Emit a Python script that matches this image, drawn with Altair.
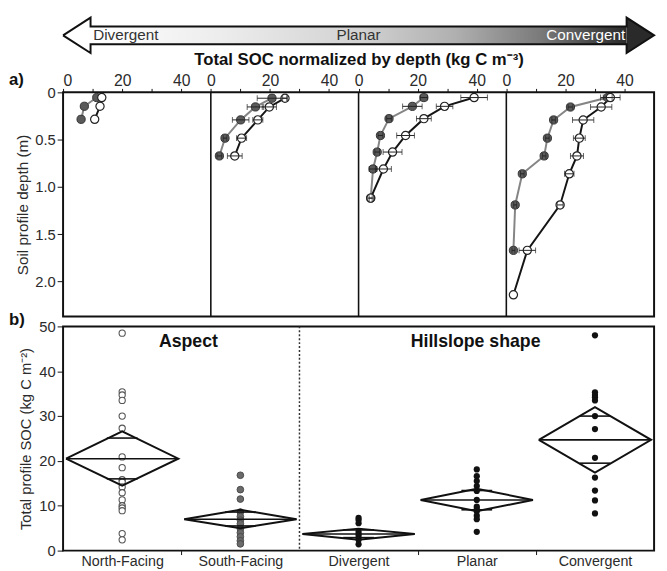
import altair as alt
import pandas as pd

FONT = "Liberation Sans"
TXT = "#2b2b2b"

# ---------------- banner arrow ----------------
arrow_labels = ["Divergent", "Planar", "Convergent"]
arrow_label_x = [10.2, 100.0, 190.2]
arrow_label_align = ["left", "center", "right"]
arrow_label_color = ["#333333", "#333333", "#ffffff"]
grad_offsets = [0.0, 0.25, 0.5, 0.68, 0.84, 1.0]
grad_colors = ["#ffffff", "#ececec", "#d2d2d2", "#b0b0b0", "#7a7a7a", "#2a2a2a"]

# ---------------- panel a: depth profiles ----------------
panel_offset = [0, 50, 100, 150]

p1_depth = [0.055, 0.147, 0.285]
p1_dark = [11.4, 7.2, 6.1]
p1_dark_err = [0.0, 0.0, 0.0]
p1_white = [13.1, 12.5, 10.7]
p1_white_err = [0.0, 0.0, 0.0]

p2_depth = [0.062, 0.154, 0.291, 0.484, 0.672]
p2_dark = [20.7, 15.1, 10.1, 4.8, 2.9]
p2_dark_err = [5.0, 2.8, 2.8, 0.6, 0.8]
p2_white = [25.1, 19.8, 15.9, 10.4, 8.1]
p2_white_err = [0.8, 2.4, 1.7, 1.7, 2.5]

p3_depth = [0.055, 0.148, 0.278, 0.456, 0.631, 0.81, 1.118]
p3_dark = [22.1, 18.2, 10.3, 7.4, 6.3, 4.9, 4.1]
p3_dark_err = [1.2, 3.3, 0.8, 0.8, 0.8, 1.3, 0.5]
p3_white = [39.1, 29.1, 22.1, 15.9, 11.5, 8.4, 4.1]
p3_white_err = [4.5, 2.8, 2.5, 3.0, 3.2, 2.7, 1.0]

p4_depth = [0.055, 0.155, 0.292, 0.484, 0.672, 0.861, 1.19, 1.67, 2.14]
p4_dark = [34.3, 21.7, 16.0, 13.9, 12.8, 5.4, 3.0, 2.4]
p4_dark_err = [1.5, 0.8, 0.6, 0.6, 0.6, 0.6, 0.5, 0.5]
p4_white = [35.2, 32.1, 26.0, 24.7, 23.9, 21.3, 18.2, 7.1, 2.4]
p4_white_err = [3.3, 3.6, 3.6, 2.0, 2.2, 1.6, 1.0, 2.8, 0.0]

depth_ticks = [0, 0.5, 1.0, 1.5, 2.0]

# ---------------- panel b: total profile SOC ----------------
cat_names = ["North-Facing", "South-Facing", "Divergent", "Planar", "Convergent"]
north_vals = [48.5, 35.4, 34.7, 33.5, 30.0, 27.3, 20.9, 18.5, 15.8, 15.3, 14.2, 12.9, 11.3, 10.0, 9.5, 8.9, 3.8, 2.4]
south_vals = [16.8, 13.6, 11.5, 8.6, 7.6, 6.8, 6.0, 4.9, 4.0, 3.1, 2.2, 1.5]
div_vals = [7.3, 6.8, 6.1, 4.2, 3.6, 3.0, 2.4, 1.4]
planar_vals = [18.1, 16.6, 15.5, 14.4, 13.3, 11.3, 9.8, 9.3, 8.8, 7.8, 7.0, 4.2]
conv_vals = [48.0, 35.3, 34.7, 34.2, 33.5, 30.0, 27.1, 20.7, 16.3, 13.4, 11.2, 8.3]

diam_mean = [20.5, 7.0, 3.7, 11.3, 24.7]
diam_hi = [26.6, 9.1, 4.9, 13.8, 32.0]
diam_lo = [14.5, 5.0, 2.4, 8.8, 17.4]
ovl_hi = [25.1, 8.6, 4.6, 13.4, 30.0]
ovl_lo = [16.0, 5.5, 2.9, 9.1, 19.5]

group_titles = ["Aspect", "Hillslope shape"]
group_title_x = [1.06, 3.49]
group_title_y = [46.6, 46.6]
group_split = [2.0]
panel_letters = ["a)", "b)"]

# ---------------- geometry ----------------
W = 601
HA = 228
HB = 228
AH = 36
GAP_ARROW = 40
GAP_PANELS = 10
HEAD = 9.3
A_TOP, A_BOT = 0.0, 42.0
B_TOP, B_BOT = 10.5, 31.5
MID = 21.0
DW = 0.475
OW = 0.13

# ======== arrow chart ========
ax_sc = alt.Scale(domain=[0, 200], nice=False, zero=False)
ay_sc = alt.Scale(domain=[A_TOP, A_BOT], reverse=True, nice=False, zero=False)

gradient = alt.LinearGradient(
    gradient="linear",
    stops=[alt.GradientStop(color=c, offset=o) for c, o in zip(grad_colors, grad_offsets)],
    x1=0, x2=1, y1=0, y2=0,
)
body_df = pd.DataFrame({"x": [HEAD], "x2": [200 - HEAD], "y": [B_TOP], "y2": [B_BOT]})
body = alt.Chart(body_df).mark_rect(fill=gradient, strokeWidth=0).encode(
    x=alt.X("x:Q", scale=ax_sc, axis=None), x2="x2:Q",
    y=alt.Y("y:Q", scale=ay_sc, axis=None), y2="y2:Q")

lhead_df = pd.DataFrame({"x": [0, HEAD], "y": [MID, A_TOP], "y2": [MID, A_BOT]})
lhead = alt.Chart(lhead_df).mark_area(fill="#ffffff", strokeWidth=0).encode(
    x=alt.X("x:Q", scale=ax_sc, axis=None), y=alt.Y("y:Q", scale=ay_sc, axis=None), y2="y2:Q")
rhead_df = pd.DataFrame({"x": [200 - HEAD, 200], "y": [A_TOP, MID], "y2": [A_BOT, MID]})
rhead = alt.Chart(rhead_df).mark_area(fill=grad_colors[-1], strokeWidth=0).encode(
    x=alt.X("x:Q", scale=ax_sc, axis=None), y=alt.Y("y:Q", scale=ay_sc, axis=None), y2="y2:Q")

ox = [0, HEAD, HEAD, 200 - HEAD, 200 - HEAD, 200, 200 - HEAD, 200 - HEAD, HEAD, HEAD, 0]
oy = [MID, A_TOP, B_TOP, B_TOP, A_TOP, MID, A_BOT, B_BOT, B_BOT, A_BOT, MID]
outline_df = pd.DataFrame({"x": ox, "y": oy, "o": list(range(len(ox)))})
outline = alt.Chart(outline_df).mark_line(color="#111111", strokeWidth=2, strokeJoin="miter").encode(
    x=alt.X("x:Q", scale=ax_sc, axis=None), y=alt.Y("y:Q", scale=ay_sc, axis=None), order="o:Q")

arrow_layers = [body, lhead, rhead, outline]
for lab, lx, al, col in zip(arrow_labels, arrow_label_x, arrow_label_align, arrow_label_color):
    tdf = pd.DataFrame({"x": [lx], "y": [MID], "t": [lab]})
    arrow_layers.append(
        alt.Chart(tdf).mark_text(align=al, baseline="middle", fontSize=15.5, color=col, font=FONT).encode(
            x=alt.X("x:Q", scale=ax_sc, axis=None), y=alt.Y("y:Q", scale=ay_sc, axis=None), text="t:N"))
arrow_chart = alt.layer(*arrow_layers).properties(
    width=W, height=AH, view=alt.ViewBackground(stroke="transparent"))

# ======== panel a ========
panels = [
    (p1_depth, p1_dark, p1_dark_err, p1_white, p1_white_err),
    (p2_depth, p2_dark, p2_dark_err, p2_white, p2_white_err),
    (p3_depth, p3_dark, p3_dark_err, p3_white, p3_white_err),
    (p4_depth, p4_dark, p4_dark_err, p4_white, p4_white_err),
]
rows = []
for pi, (dep, dk, dke, wh, whe) in enumerate(panels):
    off = panel_offset[pi]
    for s, vals, errs in (("dark", dk, dke), ("white", wh, whe)):
        for d, v, e in zip(dep, vals, errs):
            rows.append(dict(key=f"{pi}-{s}", series=s, depth=d, xp=off + v,
                             lo=off + v - e, hi=off + v + e, err=e))
prof = pd.DataFrame(rows)
caps = pd.concat([
    prof[prof.err > 0][["depth", "lo"]].rename(columns={"lo": "xp"}),
    prof[prof.err > 0][["depth", "hi"]].rename(columns={"hi": "xp"}),
])

xa_sc = alt.Scale(domain=[0, 200], nice=False, zero=False)
ya_sc = alt.Scale(domain=[0, 2.37], reverse=True, nice=False, zero=False)

TITLE_A_X = "Total SOC normalized by depth (kg C m\u207b\u00b3)"
TITLE_A_Y = "Soil profile depth (m)"
top_axis = alt.Axis(
    orient="top", values=list(range(0, 200, 10)),
    labelExpr="((datum.value % 50) % 20 == 0) ? '' + (datum.value % 50) : ''",
    tickSize=4, tickColor="#111", labelPadding=0, labelFontSize=16, labelColor=TXT,
    title=TITLE_A_X, titleFontSize=17,
    titleFontWeight="bold", titleColor="#111", titlePadding=4, domain=False, grid=False)
left_axis_a = alt.Axis(
    values=depth_ticks,
    labelExpr="datum.value == 0 ? '0' : format(datum.value, '.1f')",
    tickSize=6, tickColor="#111", labelPadding=2, labelFontSize=15, labelColor=TXT,
    title=TITLE_A_Y, titleFontSize=15.5, titleFontWeight="normal",
    titleColor=TXT, titlePadding=4, domain=False, grid=False)


def XA(field):
    return alt.X(field, type="quantitative", scale=xa_sc, axis=top_axis, title=TITLE_A_X)


def YA(field):
    return alt.Y(field, type="quantitative", scale=ya_sc, axis=left_axis_a, title=TITLE_A_Y)


div_df = pd.DataFrame({"xp": panel_offset[1:]})
dividers = alt.Chart(div_df).mark_rule(color="#111", strokeWidth=1.6).encode(x=XA("xp"))

lines_dark = alt.Chart(prof[prof.series == "dark"]).mark_line(color="#858585", strokeWidth=2).encode(
    x=XA("xp"), y=YA("depth"), detail="key:N", order="depth:Q")
lines_white = alt.Chart(prof[prof.series == "white"]).mark_line(color="#151515", strokeWidth=2).encode(
    x=XA("xp"), y=YA("depth"), detail="key:N", order="depth:Q")
pts_dark = alt.Chart(prof[prof.series == "dark"]).mark_point(
    shape="circle", filled=True, fill="#5a5a5a", stroke="#333333", strokeWidth=1, size=70, opacity=1).encode(
    x=XA("xp"), y=YA("depth"))
pts_white = alt.Chart(prof[prof.series == "white"]).mark_point(
    shape="circle", filled=True, fill="#ffffff", stroke="#222222", strokeWidth=1.2, size=70, opacity=1).encode(
    x=XA("xp"), y=YA("depth"))
ebars = alt.Chart(prof[prof.err > 0]).mark_rule(color="#222", strokeWidth=1).encode(
    x=XA("lo"), x2="hi:Q", y=YA("depth"))
ecaps = alt.Chart(caps).mark_tick(color="#222", orient="vertical", size=6, thickness=1).encode(
    x=XA("xp"), y=YA("depth"))

lab_a = alt.Chart(pd.DataFrame({"t": [panel_letters[0]]})).mark_text(
    align="left", baseline="alphabetic", fontSize=17, fontWeight="bold", color="#111", font=FONT).encode(
    x=alt.value(-55), y=alt.value(-7), text="t:N")

panel_a = alt.layer(dividers, lines_dark, lines_white, pts_dark, pts_white, ebars, ecaps, lab_a).properties(
    width=W, height=HA, view=alt.ViewBackground(stroke="#111111", strokeWidth=2))

# ======== panel b ========
centers = [i + 0.5 for i in range(len(cat_names))]
pts_rows = []
for name, c, vals in zip(cat_names, centers,
                         [north_vals, south_vals, div_vals, planar_vals, conv_vals]):
    for v in vals:
        pts_rows.append(dict(cat=name, xc=c, v=v))
pts = pd.DataFrame(pts_rows)

diam_rows = []
mean_rows = []
for name, c, m, hi, lo, oh, ol in zip(cat_names, centers, diam_mean, diam_hi, diam_lo, ovl_hi, ovl_lo):
    verts = [(c - DW, m), (c, hi), (c + DW, m), (c, lo), (c - DW, m)]
    for k, (xx, yy) in enumerate(verts):
        diam_rows.append(dict(cat=name, xc=xx, v=yy, o=k))
    mean_rows.append(dict(cat=name, xc=c - DW, xr=c + DW, v=m))
    mean_rows.append(dict(cat=name, xc=c - OW, xr=c + OW, v=oh))
    mean_rows.append(dict(cat=name, xc=c - OW, xr=c + OW, v=ol))
diam = pd.DataFrame(diam_rows)
hlines = pd.DataFrame(mean_rows)

xb_sc = alt.Scale(domain=[0, len(cat_names)], nice=False, zero=False)
yb_sc = alt.Scale(domain=[0, 50], nice=False, zero=False)

TITLE_B_Y = "Total profile SOC (kg C m\u207b\u00b2)"
label_expr = "".join(f"datum.value == {c} ? '{n}' : " for c, n in zip(centers, cat_names)) + "''"
bottom_axis = alt.Axis(
    values=sorted(centers + [1, 3, 4]), labelExpr=label_expr,
    tickOpacity={"condition": {"test": "datum.value % 1 == 0", "value": 1}, "value": 0},
    tickSize=4, tickColor="#111", labelPadding=0, labelFontSize=14.5, labelColor=TXT,
    title="", domain=False, grid=False)
left_axis_b = alt.Axis(
    values=[0, 10, 20, 30, 40, 50], tickSize=6, tickColor="#111", labelPadding=2,
    labelFontSize=15, labelColor=TXT, title=TITLE_B_Y,
    titleFontSize=15, titleFontWeight="normal", titleColor=TXT, titlePadding=5,
    domain=False, grid=False)


def XB(field):
    return alt.X(field, type="quantitative", scale=xb_sc, axis=bottom_axis, title="")


def YB(field):
    return alt.Y(field, type="quantitative", scale=yb_sc, axis=left_axis_b, title=TITLE_B_Y)


p_north = alt.Chart(pts[pts.cat == cat_names[0]]).mark_point(
    shape="circle", filled=True, fill="#ffffff", stroke="#555555", strokeWidth=1.1, size=40, opacity=1).encode(
    x=XB("xc"), y=YB("v"))
p_south = alt.Chart(pts[pts.cat == cat_names[1]]).mark_point(
    shape="circle", filled=True, fill="#6a6a6a", stroke="#4a4a4a", strokeWidth=1, size=46, opacity=1).encode(
    x=XB("xc"), y=YB("v"))
p_hill = alt.Chart(pts[pts.cat.isin(cat_names[2:])]).mark_circle(color="#111111", size=40, opacity=1).encode(
    x=XB("xc"), y=YB("v"))

split = alt.Chart(pd.DataFrame({"xc": group_split})).mark_rule(
    color="#333", strokeWidth=1.5, strokeDash=[2, 2]).encode(x=XB("xc"))

diamonds = alt.Chart(diam).mark_line(color="#111111", strokeWidth=2, strokeJoin="miter").encode(
    x=XB("xc"), y=YB("v"), detail="cat:N", order="o:Q")
mlines = alt.Chart(hlines).mark_rule(color="#111111", strokeWidth=1.6).encode(
    x=XB("xc"), x2="xr:Q", y=YB("v"))

gt = alt.Chart(pd.DataFrame({"xc": group_title_x, "v": group_title_y, "t": group_titles})).mark_text(
    align="center", baseline="middle", fontSize=18, fontWeight="bold", color="#111", font=FONT).encode(
    x=XB("xc"), y=YB("v"), text="t:N")

lab_b = alt.Chart(pd.DataFrame({"t": [panel_letters[1]]})).mark_text(
    align="left", baseline="alphabetic", fontSize=17, fontWeight="bold", color="#111", font=FONT).encode(
    x=alt.value(-55), y=alt.value(-1), text="t:N")

panel_b = alt.layer(p_north, p_south, p_hill, split, diamonds, mlines, gt, lab_b).properties(
    width=W, height=HB, view=alt.ViewBackground(stroke="#111111", strokeWidth=2))

inner = alt.vconcat(panel_a, panel_b, spacing=GAP_PANELS, bounds="flush")
chart = alt.vconcat(arrow_chart, inner, spacing=GAP_ARROW, bounds="flush").properties(
    padding=0
).configure(font=FONT).configure_axis(labelFont=FONT, titleFont=FONT)

chart.save("out.html", embed_options={"renderer": "svg", "actions": False})
